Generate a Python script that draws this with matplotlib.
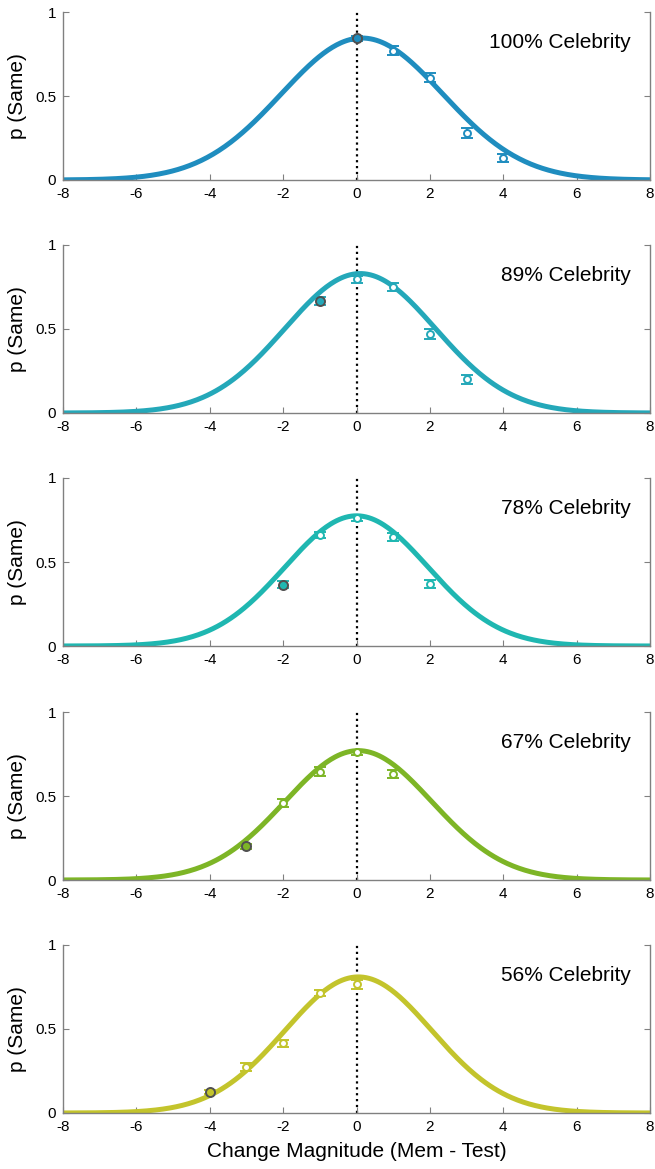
import numpy as np
import matplotlib.pyplot as plt

plt.rcParams['font.family'] = ['Liberation Sans', 'DejaVu Sans']
plt.rcParams['axes.unicode_minus'] = False

labels = ['100% Celebrity', '89% Celebrity', '78% Celebrity', '67% Celebrity', '56% Celebrity']
colors = ['#1f8dbf', '#24a8b9', '#1fb7b1', '#7db526', '#c3c42c']

# observed points (change magnitude, p(same), sem); first point is the filled one
xs = [[0, 1, 2, 3, 4],
      [-1, 0, 1, 2, 3],
      [-2, -1, 0, 1, 2],
      [-3, -2, -1, 0, 1],
      [-4, -3, -2, -1, 0]]
ys = [[0.845, 0.77, 0.61, 0.28, 0.13],
      [0.665, 0.795, 0.75, 0.47, 0.2],
      [0.365, 0.66, 0.76, 0.65, 0.37],
      [0.2, 0.46, 0.645, 0.76, 0.63],
      [0.125, 0.275, 0.415, 0.715, 0.765]]
errs = [[0.015, 0.025, 0.025, 0.028, 0.025],
        [0.025, 0.02, 0.025, 0.03, 0.025],
        [0.022, 0.02, 0.015, 0.025, 0.025],
        [0.015, 0.025, 0.025, 0.015, 0.025],
        [0.012, 0.025, 0.022, 0.02, 0.025]]

# fitted gaussian parameters (amplitude, centre, width)
fit_amp = [0.845, 0.83, 0.775, 0.77, 0.81]
fit_mu = [0.15, 0.1, 0.0, 0.05, 0.05]
fit_sd = [2.2, 2.05, 1.95, 2.0, 2.0]

W, H = 655, 1169
fig = plt.figure(figsize=(W / 100, H / 100), dpi=100)

bottoms = [180, 413, 646, 880, 1113]
grid = np.linspace(-8, 8, 400)

for i in range(5):
    ax = fig.add_axes([63 / W, 1 - bottoms[i] / H, 587 / W, 168 / H])
    c = colors[i]
    ax.plot([0, 0], [0, 1], linestyle=':', color='black', lw=1.6, zorder=1)
    curve = fit_amp[i] * np.exp(-(grid - fit_mu[i]) ** 2 / (2 * fit_sd[i] ** 2))
    ax.plot(grid, curve, color=c, lw=3.6, zorder=2, solid_capstyle='butt')
    ax.errorbar(xs[i][1:], ys[i][1:], yerr=errs[i][1:], fmt='o', color=c,
                mfc='white', mec=c, ms=5, mew=1.4, elinewidth=1.3,
                capsize=4, capthick=1.3, zorder=3)
    ax.errorbar(xs[i][:1], ys[i][:1], yerr=errs[i][:1], fmt='o', color=c,
                mfc=c, mec='#505050', ms=6.5, mew=1.4, elinewidth=1.3,
                capsize=4, capthick=1.3, zorder=4)
    ax.set_xlim(-8, 8)
    ax.set_ylim(0, 1)
    ax.set_xticks(range(-8, 9, 2))
    ax.set_yticks([0, 0.5, 1])
    ax.set_yticklabels(['0', '0.5', '1'])
    ax.tick_params(direction='in', length=4, labelsize=11, color='#808080',
                   right=True, pad=5)
    ax.spines['top'].set_visible(False)
    for s in ['left', 'bottom', 'right']:
        ax.spines[s].set_color('#808080')
        ax.spines[s].set_linewidth(1.0)
    ax.set_ylabel('p (Same)', fontsize=15, labelpad=6)
    ax.text(0.968, 0.82, labels[i], transform=ax.transAxes, ha='right',
            va='center', fontsize=15)
    if i == 4:
        ax.set_xlabel('Change Magnitude (Mem - Test)', fontsize=15, labelpad=6)

fig.savefig('out.png', dpi=100)
